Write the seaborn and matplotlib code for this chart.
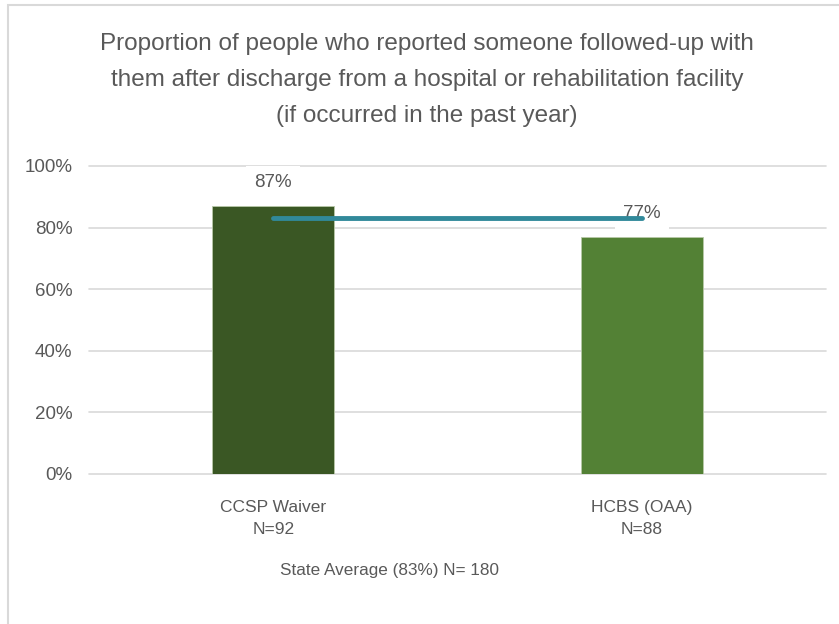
import matplotlib
matplotlib.use("Agg")
import matplotlib.pyplot as plt
import seaborn as sns
import pandas as pd
from matplotlib.patches import Rectangle
from matplotlib.ticker import PercentFormatter

# data
categories = ["CCSP Waiver\nN=92", "HCBS (OAA)\nN=88"]
values = [87, 77]
state_avg = [83, 83]
bar_colors = ["#3A5724", "#538135"]
yticks = [0, 20, 40, 60, 80, 100]

TEXT = "#595959"
GRID = "#D9D9D9"
LINE = "#31899A"

sns.set_theme(style="white")
plt.rcParams["font.family"] = ["Liberation Sans", "DejaVu Sans"]

fig = plt.figure(figsize=(8.39, 6.24), dpi=100)
fig.patch.set_facecolor("white")

# outer chart frame
fig.patches.append(Rectangle((8 / 839, -0.1), 1.2, 1 - 5 / 624 + 0.1,
                             transform=fig.transFigure, fill=False,
                             edgecolor="#D9D9D9", lw=1.5))

ax = fig.add_axes([89 / 839, 1 - 474 / 624, 737 / 839, 308 / 624])

df = pd.DataFrame({"group": categories, "pct": values})
sns.barplot(data=df, x="group", y="pct", hue="group", palette=bar_colors,
            width=0.33, saturation=1, legend=False, ax=ax, zorder=2,
            edgecolor="#B8C9A8", linewidth=0.6)

ax.plot([0, 1], state_avg, color=LINE, lw=3.5, solid_capstyle="round", zorder=5)

for i, v in enumerate(values):
    ax.text(i, v + 7.5, f"{v}%", ha="center", va="center", fontsize=13.5,
            color=TEXT, zorder=4,
            bbox=dict(facecolor="white", edgecolor="none", pad=6))

ax.set_ylim(0, 100)
ax.set_yticks(yticks)
ax.yaxis.set_major_formatter(PercentFormatter(decimals=0))
ax.set_xlim(-0.5, 1.5)
ax.grid(axis="y", color=GRID, lw=1.2, zorder=0)
ax.set_axisbelow(True)
for gl in ax.get_ygridlines():
    gl.set_clip_on(False)
for s in ax.spines.values():
    s.set_visible(False)
ax.tick_params(axis="y", length=0, colors=TEXT, labelsize=13.5, pad=12)
ax.tick_params(axis="x", length=0, colors=TEXT, labelsize=12.5, pad=19)
for lab in ax.get_xticklabels():
    lab.set_linespacing(1.55)
ax.set_xlabel("")
ax.set_ylabel("")

fig.text(427 / 839, 1 - 80 / 624,
         "Proportion of people who reported someone followed-up with\n"
         "them after discharge from a hospital or rehabilitation facility\n"
         "(if occurred in the past year)",
         ha="center", va="center", fontsize=17.5, color=TEXT, linespacing=1.85)

fig.text(389 / 839, 1 - 570 / 624, "State Average (83%) N= 180",
         ha="center", va="center", fontsize=12.3, color=TEXT)

fig.savefig("out.png", dpi=100, facecolor="white")
